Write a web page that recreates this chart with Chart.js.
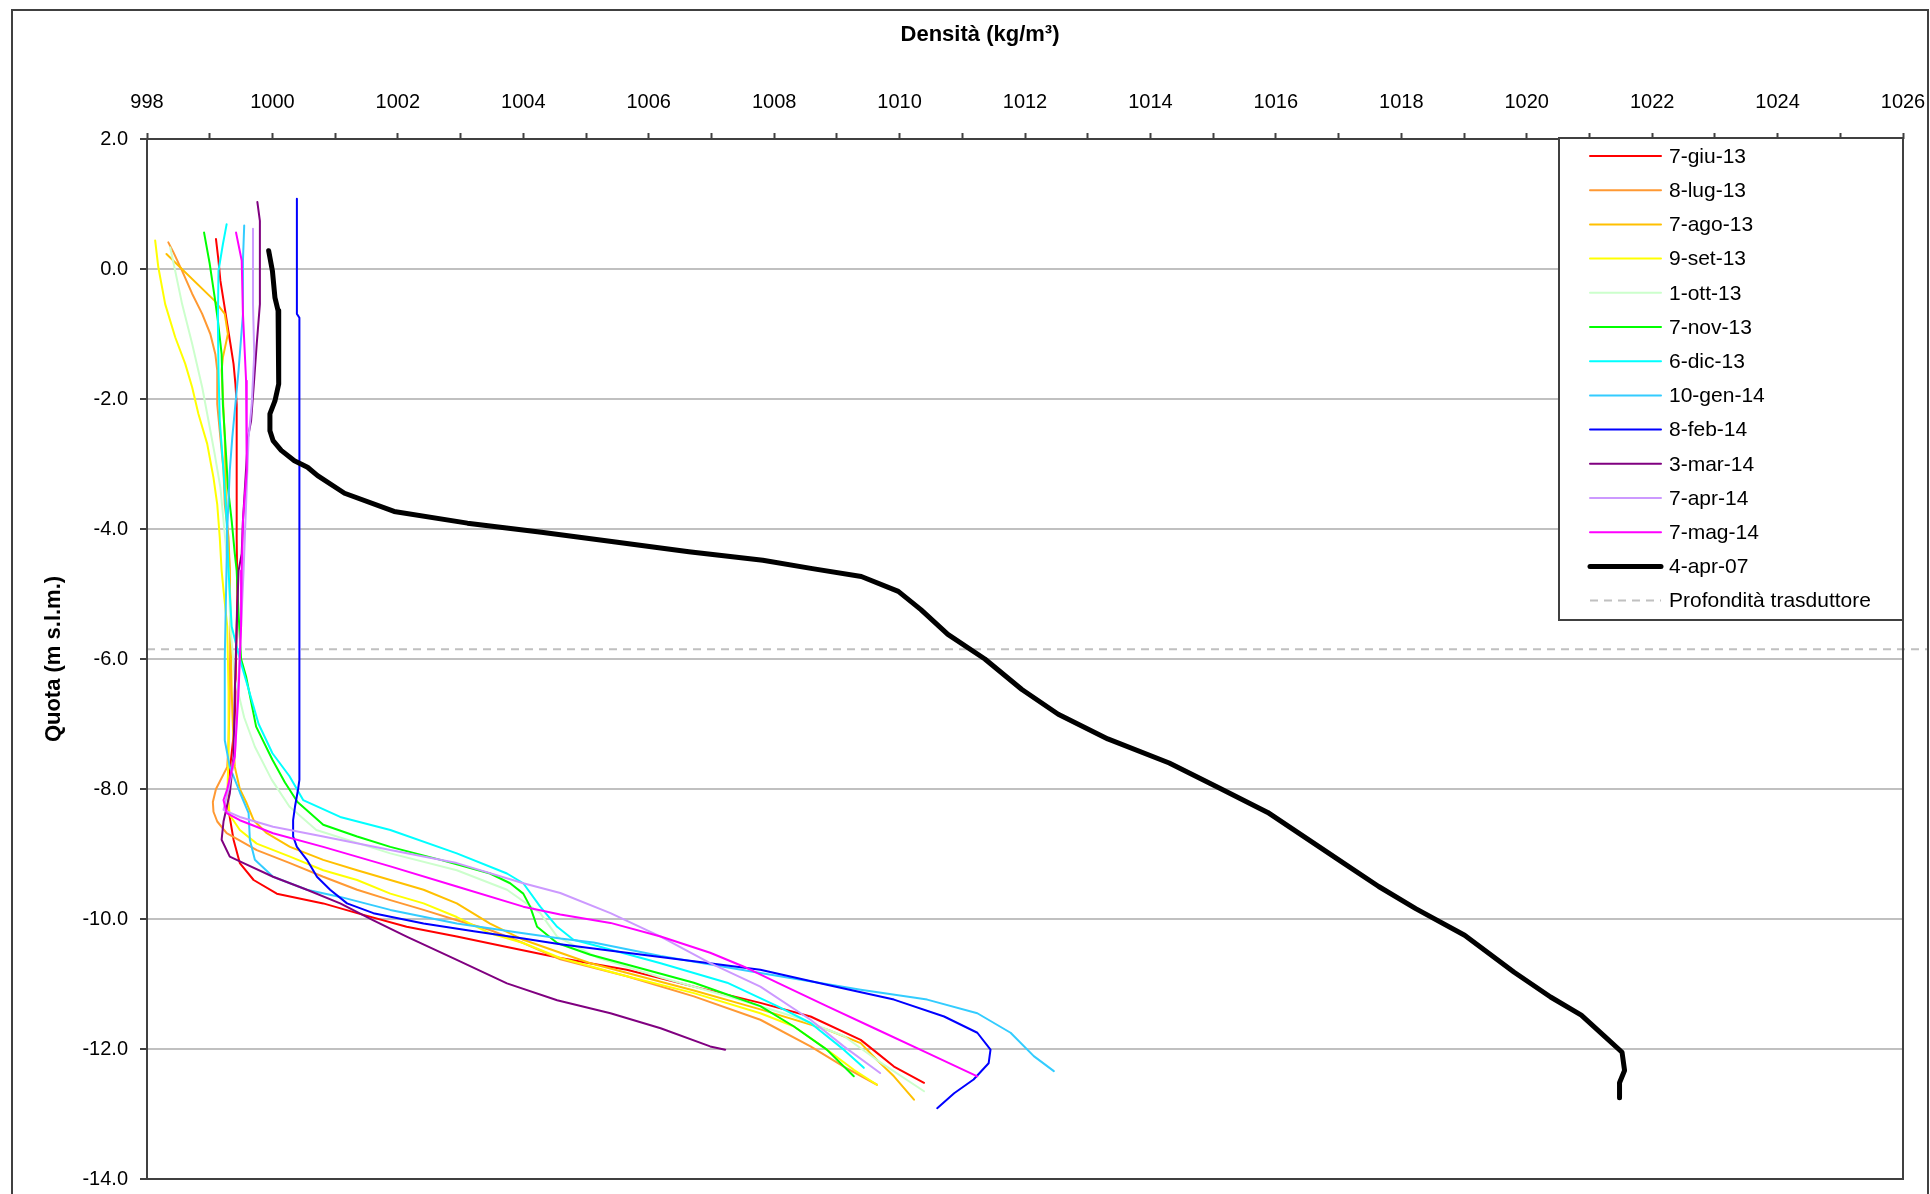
<!DOCTYPE html>
<html>
<head>
<meta charset="utf-8">
<title>Densità</title>
<script src="https://cdn.jsdelivr.net/npm/chart.js@4.4.0/dist/chart.umd.min.js"></script>
<style>
  html, body { margin: 0; padding: 0; background: #fff; }
  canvas { display: block; }
</style>
</head>
<body>
<canvas id="chart-densita" width="1930" height="1194"></canvas>
<script>
// profili: [densità kg/m3, quota m s.l.m.]
const giu13 = [[999.10,0.46],[999.14,0.13],[999.17,-0.18],[999.23,-0.54],[999.28,-0.85],[999.33,-1.15],[999.38,-1.46],[999.41,-1.77],[999.43,-2.08],[999.43,-3.10],[999.43,-4.13],[999.44,-5.00],[999.42,-6.00],[999.40,-7.00],[999.35,-7.45],[999.31,-7.80],[999.29,-8.07],[999.30,-8.32],[999.38,-8.78],[999.48,-9.14],[999.70,-9.40],[1000.07,-9.61],[1000.81,-9.76],[1001.35,-9.91],[1002.14,-10.12],[1002.94,-10.27],[1003.74,-10.43],[1004.59,-10.60],[1005.65,-10.78],[1006.72,-11.04],[1007.78,-11.29],[1008.58,-11.50],[1009.38,-11.86],[1009.64,-12.06],[1009.91,-12.27],[1010.39,-12.52]];
const lug13 = [[998.34,0.41],[998.42,0.26],[998.56,-0.03],[998.72,-0.38],[998.88,-0.69],[999.01,-1.00],[999.09,-1.31],[999.12,-1.56],[999.12,-2.08],[999.17,-2.59],[999.22,-3.10],[999.24,-3.62],[999.30,-4.13],[999.32,-4.64],[999.33,-5.50],[999.32,-6.50],[999.30,-7.30],[999.28,-7.66],[999.10,-8.00],[999.05,-8.20],[999.06,-8.35],[999.12,-8.50],[999.27,-8.68],[999.75,-8.94],[1000.28,-9.14],[1000.81,-9.35],[1001.35,-9.55],[1001.88,-9.71],[1002.41,-9.86],[1002.94,-10.02],[1003.47,-10.17],[1004.00,-10.37],[1004.59,-10.62],[1005.65,-10.88],[1006.72,-11.19],[1007.78,-11.55],[1008.58,-11.96],[1009.11,-12.27],[1009.64,-12.55]];
const ago13 = [[998.31,0.23],[999.08,-0.49],[999.24,-0.69],[999.29,-1.00],[999.21,-1.36],[999.19,-1.56],[999.24,-2.59],[999.26,-3.62],[999.32,-4.64],[999.33,-5.50],[999.35,-6.50],[999.38,-7.30],[999.40,-7.66],[999.48,-8.00],[999.59,-8.22],[999.70,-8.48],[999.91,-8.68],[1000.28,-8.89],[1000.81,-9.09],[1001.35,-9.25],[1001.88,-9.40],[1002.41,-9.55],[1002.94,-9.76],[1003.47,-10.07],[1004.00,-10.32],[1004.59,-10.52],[1005.07,-10.68],[1006.72,-11.10],[1007.78,-11.39],[1008.84,-11.70],[1009.38,-11.91],[1009.64,-12.17],[1009.91,-12.42],[1010.23,-12.78]];
const set13 = [[998.13,0.44],[998.18,0.03],[998.29,-0.54],[998.45,-1.05],[998.61,-1.46],[998.72,-1.82],[998.82,-2.23],[998.96,-2.69],[999.06,-3.21],[999.12,-3.62],[999.16,-4.13],[999.19,-4.64],[999.22,-4.94],[999.28,-5.50],[999.30,-6.50],[999.30,-7.50],[999.28,-8.10],[999.32,-8.40],[999.48,-8.63],[999.75,-8.84],[1000.28,-9.04],[1000.81,-9.25],[1001.35,-9.40],[1001.88,-9.61],[1002.41,-9.76],[1002.94,-9.97],[1003.47,-10.22],[1004.00,-10.37],[1004.59,-10.60],[1005.65,-10.88],[1006.72,-11.14],[1007.78,-11.45],[1008.31,-11.65],[1008.84,-12.01],[1009.27,-12.32],[1009.64,-12.55]];
const ott13 = [[998.37,0.33],[998.45,-0.03],[998.56,-0.54],[998.72,-1.15],[998.88,-1.82],[998.98,-2.33],[999.08,-2.85],[999.17,-3.36],[999.22,-3.87],[999.27,-4.38],[999.30,-4.64],[999.33,-5.50],[999.40,-6.30],[999.55,-6.90],[999.72,-7.35],[999.99,-7.86],[1000.27,-8.27],[1000.70,-8.63],[1001.88,-8.99],[1002.94,-9.25],[1003.74,-9.55],[1004.27,-9.91],[1004.54,-10.27],[1005.20,-10.60],[1006.20,-10.90],[1007.30,-11.20],[1008.31,-11.50],[1009.11,-11.80],[1009.64,-12.17],[1010.39,-12.65]];
const nov13 = [[998.91,0.56],[999.00,0.08],[999.08,-0.44],[999.13,-0.79],[999.19,-1.31],[999.21,-2.08],[999.26,-2.85],[999.29,-3.36],[999.35,-3.87],[999.40,-4.38],[999.43,-4.64],[999.46,-5.30],[999.50,-6.00],[999.58,-6.27],[999.74,-7.04],[1000.00,-7.55],[1000.20,-7.90],[1000.40,-8.20],[1000.81,-8.55],[1001.35,-8.73],[1001.88,-8.89],[1002.68,-9.09],[1003.47,-9.30],[1003.79,-9.45],[1004.00,-9.61],[1004.11,-9.81],[1004.22,-10.12],[1004.54,-10.37],[1005.07,-10.55],[1005.65,-10.70],[1006.72,-10.98],[1007.78,-11.34],[1008.31,-11.65],[1008.84,-12.01],[1009.27,-12.42]];
const dic13 = [[999.27,0.69],[999.21,0.38],[999.14,-0.03],[999.13,-0.79],[999.14,-1.56],[999.16,-2.33],[999.22,-3.10],[999.27,-3.87],[999.30,-4.64],[999.35,-5.50],[999.48,-6.00],[999.60,-6.40],[999.78,-7.00],[1000.00,-7.45],[1000.27,-7.80],[1000.49,-8.17],[1001.08,-8.43],[1001.88,-8.63],[1002.94,-8.99],[1003.74,-9.30],[1004.00,-9.45],[1004.27,-9.81],[1004.54,-10.12],[1004.80,-10.32],[1005.12,-10.40],[1006.19,-10.68],[1007.25,-10.98],[1008.05,-11.34],[1008.58,-11.60],[1009.11,-12.01],[1009.43,-12.29]];
const gen14 = [[999.55,0.67],[999.53,0.13],[999.53,-0.69],[999.46,-1.56],[999.40,-2.18],[999.36,-2.59],[999.32,-3.10],[999.28,-4.00],[999.26,-5.00],[999.24,-6.00],[999.24,-7.25],[999.32,-7.66],[999.48,-8.05],[999.62,-8.37],[999.64,-8.78],[999.72,-9.09],[1000.01,-9.35],[1000.55,-9.55],[1001.08,-9.66],[1001.88,-9.86],[1002.94,-10.07],[1004.00,-10.22],[1004.59,-10.30],[1005.12,-10.36],[1006.19,-10.57],[1007.78,-10.83],[1009.38,-11.09],[1010.44,-11.24],[1011.24,-11.45],[1011.77,-11.75],[1012.14,-12.11],[1012.46,-12.34]];
const feb14 = [[1000.39,1.08],[1000.39,-0.69],[1000.43,-0.75],[1000.43,-4.64],[1000.43,-7.86],[1000.41,-8.00],[1000.36,-8.27],[1000.33,-8.48],[1000.33,-8.73],[1000.39,-8.89],[1000.55,-9.09],[1000.71,-9.35],[1000.92,-9.55],[1001.19,-9.76],[1001.61,-9.91],[1002.41,-10.07],[1003.21,-10.19],[1004.00,-10.30],[1004.59,-10.39],[1005.65,-10.52],[1006.72,-10.65],[1007.78,-10.78],[1008.84,-11.01],[1009.91,-11.24],[1010.71,-11.50],[1011.24,-11.75],[1011.45,-12.01],[1011.42,-12.22],[1011.18,-12.47],[1010.87,-12.68],[1010.60,-12.91]];
const mar14 = [[999.76,1.03],[999.80,0.74],[999.80,-0.54],[999.75,-1.15],[999.70,-1.82],[999.66,-2.33],[999.61,-2.59],[999.53,-3.87],[999.51,-4.38],[999.46,-4.64],[999.43,-5.50],[999.40,-6.50],[999.38,-7.50],[999.32,-8.07],[999.22,-8.50],[999.19,-8.78],[999.32,-9.04],[999.54,-9.14],[1000.01,-9.35],[1000.55,-9.55],[1001.08,-9.76],[1001.61,-10.02],[1002.14,-10.27],[1002.94,-10.63],[1003.74,-10.99],[1004.54,-11.25],[1005.39,-11.45],[1006.19,-11.68],[1006.98,-11.96],[1007.22,-12.01]];
const apr14 = [[999.69,0.62],[999.69,-0.54],[999.71,-1.31],[999.67,-2.08],[999.62,-2.59],[999.59,-3.36],[999.56,-4.13],[999.54,-4.64],[999.50,-5.50],[999.45,-6.50],[999.40,-7.50],[999.30,-8.00],[999.22,-8.32],[999.48,-8.43],[1000.01,-8.58],[1000.81,-8.73],[1001.88,-8.94],[1002.94,-9.14],[1004.00,-9.45],[1004.59,-9.60],[1005.39,-9.91],[1006.19,-10.27],[1006.98,-10.68],[1007.78,-11.04],[1008.58,-11.55],[1009.11,-11.96],[1009.69,-12.37]];
const mag14 = [[999.42,0.56],[999.51,0.13],[999.53,-0.69],[999.58,-1.72],[999.59,-2.08],[999.59,-3.10],[999.53,-3.87],[999.51,-4.64],[999.50,-5.50],[999.46,-6.50],[999.40,-7.50],[999.28,-8.00],[999.22,-8.17],[999.27,-8.37],[999.48,-8.48],[1000.01,-8.68],[1000.81,-8.89],[1001.88,-9.19],[1002.94,-9.50],[1004.00,-9.81],[1004.59,-9.93],[1005.39,-10.06],[1006.19,-10.27],[1006.98,-10.52],[1007.51,-10.73],[1008.05,-10.98],[1008.84,-11.34],[1009.64,-11.70],[1010.44,-12.06],[1011.24,-12.42]];
const apr07 = [[999.94,0.28],[1000.00,-0.03],[1000.04,-0.44],[1000.09,-0.64],[1000.10,-1.77],[1000.04,-2.03],[999.96,-2.23],[999.96,-2.49],[1000.01,-2.64],[1000.14,-2.79],[1000.35,-2.95],[1000.56,-3.05],[1000.72,-3.18],[1001.15,-3.45],[1001.94,-3.73],[1003.11,-3.91],[1004.29,-4.05],[1005.47,-4.20],[1006.64,-4.35],[1007.82,-4.48],[1008.61,-4.61],[1009.39,-4.73],[1009.98,-4.96],[1010.34,-5.24],[1010.77,-5.62],[1011.36,-6.00],[1011.95,-6.47],[1012.53,-6.85],[1013.32,-7.23],[1014.30,-7.60],[1015.09,-7.98],[1015.87,-8.36],[1016.46,-8.74],[1017.05,-9.12],[1017.64,-9.50],[1018.23,-9.84],[1019.01,-10.25],[1019.80,-10.82],[1020.38,-11.20],[1020.87,-11.48],[1021.26,-11.82],[1021.52,-12.05],[1021.56,-12.33],[1021.48,-12.52],[1021.48,-12.75]];
const trasduttore = [[998, -5.85], [1026.4, -5.85]];

const profiles = [giu13, lug13, ago13, set13, ott13, nov13, dic13, gen14, feb14, mar14, apr14, mag14, apr07];
const seriesNames = ['7-giu-13', '8-lug-13', '7-ago-13', '9-set-13', '1-ott-13', '7-nov-13', '6-dic-13', '10-gen-14', '8-feb-14', '3-mar-14', '7-apr-14', '7-mag-14', '4-apr-07'];
const seriesColors = ['#FF0000', '#FF9933', '#FFC000', '#FFFF00', '#CCFFCC', '#00FF00', '#00FFFF', '#33CCFF', '#0000FF', '#800080', '#CC99FF', '#FF00FF', '#000000'];

const FONT = '"Liberation Sans", Arial, sans-serif';

let datasets = profiles.map((p, i) => ({
  label: seriesNames[i],
  data: p.map(d => ({x: d[0], y: d[1]})),
  borderColor: seriesColors[i],
  borderWidth: i == 12 ? 5 : 2,
  borderJoinStyle: 'round',
  borderCapStyle: 'round',
  showLine: true,
  pointRadius: 0,
  tension: 0,
  order: profiles.length - i
}));
datasets.push({
  label: 'Profondità trasduttore',
  data: trasduttore.map(d => ({x: d[0], y: d[1]})),
  borderColor: '#c0c0c0',
  borderWidth: 2,
  borderDash: [8, 6],
  showLine: true,
  pointRadius: 0,
  clip: false,
  order: 50
});

// cornice, titolo e legenda disegnati a mano come nel grafico Excel
const framePlugin = {
  id: 'frame',
  afterDraw(chart) {
    const ctx = chart.ctx, a = chart.chartArea;
    ctx.save();
    ctx.strokeStyle = '#404040';
    ctx.lineWidth = 2;
    ctx.strokeRect(a.left, a.top, a.right - a.left, a.bottom - a.top);
    ctx.strokeRect(12, 10, 1916, 1200);

    ctx.fillStyle = '#000';
    ctx.font = 'bold 22px ' + FONT;
    ctx.textAlign = 'center';
    ctx.textBaseline = 'middle';
    ctx.fillText('Densità (kg/m³)', 980, 35);

    // legenda
    const lx = 1559, ly = 138, lw = a.right - 1559, lh = 482;
    ctx.fillStyle = '#fff';
    ctx.fillRect(lx, ly, lw, lh);
    ctx.strokeRect(lx, ly, lw, lh);
    ctx.font = '21px ' + FONT;
    ctx.textAlign = 'left';
    chart.data.datasets.forEach((ds, i) => {
      const y = 156 + i * 34.2;
      ctx.beginPath();
      ctx.strokeStyle = ds.borderColor;
      ctx.lineWidth = ds.borderWidth;
      ctx.lineCap = ds.borderDash ? 'butt' : 'round';
      ctx.setLineDash(ds.borderDash || []);
      ctx.moveTo(1590, y);
      ctx.lineTo(1661, y);
      ctx.stroke();
      ctx.setLineDash([]);
      ctx.fillStyle = '#000';
      ctx.fillText(ds.label, 1669, y + 1);
    });
    ctx.restore();
  }
};

new Chart(document.getElementById('chart-densita').getContext('2d'), {
  type: 'scatter',
  data: { datasets: datasets },
  options: {
    responsive: false,
    animation: false,
    layout: { padding: { left: 0, top: 0, right: 27, bottom: 15 } },
    plugins: {
      legend: { display: false },
      tooltip: { enabled: false }
    },
    scales: {
      x: {
        type: 'linear',
        position: 'top',
        min: 998,
        max: 1026,
        afterFit: s => { s.height = 139; s.paddingLeft = 0; s.paddingRight = 0; },
        ticks: {
          stepSize: 1,
          autoSkip: false,
          maxRotation: 0,
          padding: 19,
          color: '#000',
          font: { family: FONT, size: 20 },
          callback: v => (v % 2 === 0 ? String(v) : '')
        },
        grid: { drawOnChartArea: false, tickLength: 6, tickColor: '#404040', tickWidth: 2 },
        border: { display: false }
      },
      y: {
        type: 'linear',
        min: -14,
        max: 2,
        afterFit: s => { s.width = 147; s.paddingTop = 0; s.paddingBottom = 0; },
        ticks: {
          stepSize: 2,
          padding: 12,
          color: '#000',
          font: { family: FONT, size: 20 },
          callback: v => v.toFixed(1)
        },
        grid: { color: '#c0c0c0', lineWidth: 2, tickLength: 7, tickColor: '#404040', tickWidth: 2 },
        border: { display: false },
        title: {
          display: true,
          text: 'Quota (m s.l.m.)',
          color: '#000',
          font: { family: FONT, size: 22, weight: 'bold' },
          padding: { top: 41, bottom: 0 }
        }
      }
    }
  },
  plugins: [framePlugin]
});
</script>
</body>
</html>
